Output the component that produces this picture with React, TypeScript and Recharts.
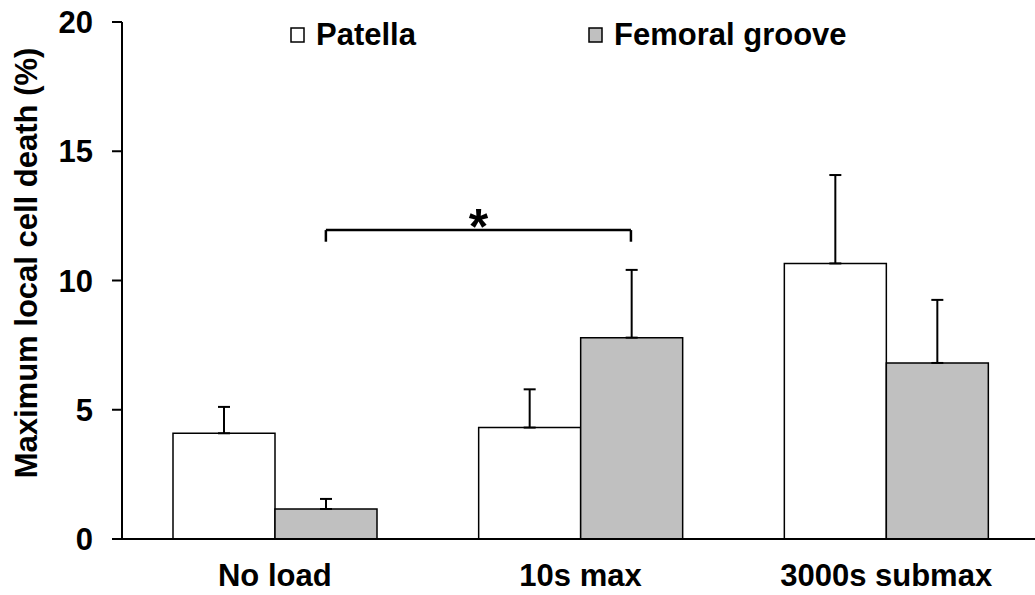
import { BarChart, Bar, XAxis, YAxis, ErrorBar, Legend, ReferenceLine } from "recharts";

const categories = ["No load", "10s max", "3000s submax"];
const patella = [4.09, 4.31, 10.66];
const patellaErr = [1.02, 1.48, 3.42];
const femoral = [1.16, 7.79, 6.81];
const femoralErr = [0.39, 2.62, 2.44];
const yTicks = [0, 5, 10, 15, 20];

// significance bracket: femoral "No load" vs femoral "10s max"
const bracketFrom = 0.667;
const bracketTo = 1.665;
const bracketTop = 11.95;
const bracketFoot = 11.5;

const data = categories.map((name, i) => ({
  name,
  patella: patella[i],
  patellaErr: [0, patellaErr[i]],
  femoral: femoral[i],
  femoralErr: [0, femoralErr[i]],
}));

const FONT = "'Liberation Sans', Arial, sans-serif";
const GREY = "#c0c0c0";

function LegendBox() {
  const items = [
    { label: "Patella", fill: "#ffffff", x: 291 },
    { label: "Femoral groove", fill: GREY, x: 589 },
  ];
  return (
    <div style={{ position: "relative", width: 0, height: 0 }}>
      <svg width={1040} height={60} style={{ position: "absolute", left: 0, top: 0, overflow: "visible" }}>
        {items.map((it) => (
          <g key={it.label}>
            <rect x={it.x} y={28} width={13} height={14} fill={it.fill} stroke="#000" strokeWidth={1.5} />
            <text x={it.x + 25} y={45} fontFamily={FONT} fontWeight="bold" fontSize={31} fill="#000">
              {it.label}
            </text>
          </g>
        ))}
      </svg>
    </div>
  );
}

function YTick({ y, payload }: any) {
  return (
    <text x={93} y={y} dy="0.36em" textAnchor="end" fontFamily={FONT} fontWeight="bold" fontSize={31} fill="#000">
      {payload.value}
    </text>
  );
}

export default function App() {
  return (
    <div style={{ position: "absolute", left: 0, top: 0, width: 1035, height: 595, overflow: "hidden", background: "#fff" }}>
      <BarChart
        width={1040}
        height={595}
        data={data}
        margin={{ top: 22, right: 1, left: 42, bottom: 26 }}
        barGap={0}
      >
        <XAxis
          dataKey="name"
          axisLine={{ stroke: "#000", strokeWidth: 2 }}
          tickLine={false}
          tickSize={0}
          tickMargin={25}
          height={30}
          tick={{ fontFamily: FONT, fontWeight: "bold", fontSize: 31, fill: "#000" }}
        />
        <XAxis xAxisId="pos" type="number" dataKey="pos" domain={[0, 3]} allowDataOverflow hide />
        <YAxis
          width={80}
          domain={[0, 20]}
          ticks={yTicks}
          interval={0}
          axisLine={{ stroke: "#000", strokeWidth: 2 }}
          tickLine={{ stroke: "#000", strokeWidth: 2 }}
          tickSize={10}
          tick={YTick}
          label={{
            content: () => (
              <text
                x={37}
                y={263}
                transform="rotate(-90, 37, 263)"
                textAnchor="middle"
                fontFamily={FONT}
                fontWeight="bold"
                fontSize={31}
                fill="#000"
              >
                Maximum local cell death (%)
              </text>
            ),
          }}
        />
        <Legend content={LegendBox} wrapperStyle={{ position: "absolute", left: 0, top: 0, width: 0, height: 0 }} />
        <Bar dataKey="patella" name="Patella" fill="#ffffff" stroke="#000" strokeWidth={1.5} barSize={102} isAnimationActive={false}>
          <ErrorBar dataKey="patellaErr" width={6} stroke="#000" strokeWidth={2} direction="y" />
        </Bar>
        <Bar dataKey="femoral" name="Femoral groove" fill={GREY} stroke="#000" strokeWidth={1.5} barSize={102} isAnimationActive={false}>
          <ErrorBar dataKey="femoralErr" width={6} stroke="#000" strokeWidth={2} direction="y" />
        </Bar>
        <ReferenceLine
          xAxisId="pos"
          ifOverflow="visible"
          segment={[{ x: bracketFrom, y: bracketTop }, { x: bracketTo, y: bracketTop }]}
          stroke="#000"
          strokeWidth={2.5}
          label={{
            content: (props: any) => {
              const vb = props.viewBox || {};
              const cx = (vb.x ?? 0) + (vb.width ?? 0) / 2;
              return (
                <text x={cx} y={(vb.y ?? 0) + 14} textAnchor="middle" fontFamily={FONT} fontWeight="bold" fontSize={50} fill="#000">
                  *
                </text>
              );
            },
          }}
        />
        <ReferenceLine
          xAxisId="pos"
          ifOverflow="visible"
          segment={[{ x: bracketFrom, y: bracketTop }, { x: bracketFrom, y: bracketFoot }]}
          stroke="#000"
          strokeWidth={2.5}
        />
        <ReferenceLine
          xAxisId="pos"
          ifOverflow="visible"
          segment={[{ x: bracketTo, y: bracketTop }, { x: bracketTo, y: bracketFoot }]}
          stroke="#000"
          strokeWidth={2.5}
        />
      </BarChart>
    </div>
  );
}
